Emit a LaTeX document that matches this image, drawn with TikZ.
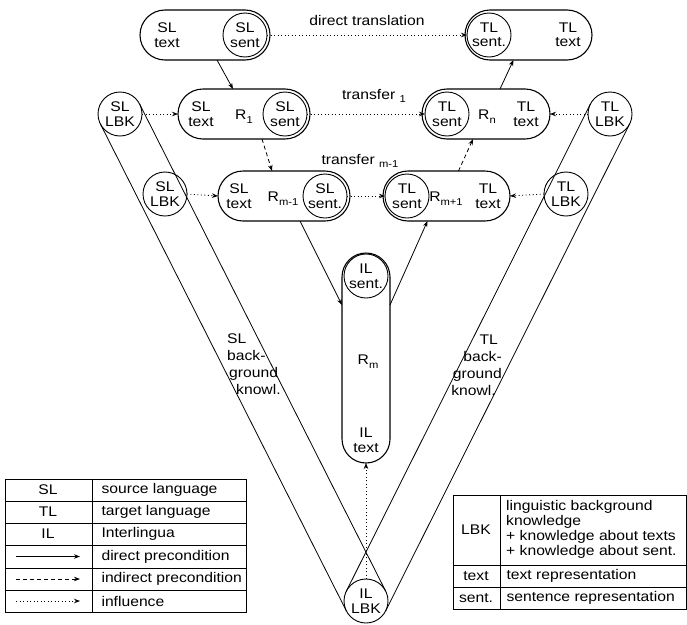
\documentclass[tikz,border=0pt]{standalone}
\usepackage{fontspec}
\setmainfont{Liberation Sans}[FakeStretch=1.12]
\usetikzlibrary{arrows.meta,calc}

% lowered index used for R_1, R_n, transfer_1 ...
\newcommand{\lowidx}[1]{\raisebox{-0.5ex}{\fontsize{10}{10}\selectfont #1}}

\begin{document}
\begin{tikzpicture}[x=1pt,y=-1pt,
  font=\fontsize{14}{14.5}\selectfont,
  capsule/.style={draw,line width=1.1pt,rounded corners=25pt,minimum height=50pt,
                  inner sep=0pt,outer sep=0pt},
  rep/.style={draw,circle,line width=0.9pt,minimum size=44pt,inner sep=0pt,
              outer sep=0pt,align=center},
  lbl/.style={align=center,inner sep=0pt},
  tip/.style={-{Stealth[length=6pt,width=4.5pt]}},
  direct/.style={line width=0.8pt,tip},
  indirect/.style={line width=0.8pt,dash pattern=on 4pt off 3pt,tip},
  influence/.style={line width=0.8pt,dash pattern=on 0.9pt off 2.6pt,tip},
  band/.style={line width=0.8pt},
  tab/.style={line width=1pt},
]
\useasboundingbox (0,0) rectangle (687,624);

% ---- row 1: texts -------------------------------------------------
\node[capsule,minimum width=130pt] (s1) at (205,35) {};
\node[rep] (s1sent) at (245,35) {SL\\sent};
\node[lbl] (s1text) at (167,35) {SL\\text};
\node[capsule,minimum width=127pt] (t1) at (528.5,35) {};
\node[rep] (t1sent) at (489,35) {TL\\sent.};
\node[lbl] (t1text) at (568,35) {TL\\text};

% ---- row 2: representation R_1 / R_n ------------------------------
\node[capsule,minimum width=132pt] (s2) at (244,114) {};
\node[rep] (s2sent) at (285,114) {SL\\sent};
\node[lbl] (s2text) at (201,114) {SL\\text};
\node[lbl] (s2r) at (244,117) {R\lowidx{1}};
\node[capsule,minimum width=128pt] (t2) at (486,114) {};
\node[rep] (t2sent) at (447,114) {TL\\sent};
\node[lbl] (t2r) at (487,117) {R\lowidx{n}};
\node[lbl] (t2text) at (526,114) {TL\\text};

% ---- row 3: representation R_{m-1} / R_{m+1} ----------------------
\node[capsule,minimum width=132pt] (s3) at (284,196) {};
\node[rep] (s3sent) at (325,196) {SL\\sent.};
\node[lbl] (s3text) at (239,196) {SL\\text};
\node[lbl] (s3r) at (283,199) {R\lowidx{m-1}};
\node[capsule,minimum width=127pt] (t3) at (446.5,196) {};
\node[rep] (t3sent) at (407,196) {TL\\sent};
\node[lbl] (t3r) at (446,199) {R\lowidx{m+1}};
\node[lbl] (t3text) at (488,196) {TL\\text};

% ---- interlingua R_m ----------------------------------------------
\node[capsule,minimum width=48pt,minimum height=210pt,rounded corners=24pt] (il) at (366,358) {};
\node[rep] (ilsent) at (366,276) {IL\\sent.};
\node[lbl] (ilr) at (368,362) {R\lowidx{m}};
\node[lbl] (iltext) at (366,440) {IL\\text};

% ---- linguistic background knowledge ------------------------------
\node[rep] (sl1) at (120,114) {SL\\LBK};
\node[rep] (sl2) at (165,194) {SL\\LBK};
\node[rep] (tl1) at (610,114) {TL\\LBK};
\node[rep] (tl2) at (566,194) {TL\\LBK};
\node[rep] (illbk) at (366,601) {IL\\LBK};

% bands joining SL/TL knowledge with IL knowledge
\draw[band] ($(sl1)!22pt!90:(illbk)$) -- ($(illbk)!22pt!-90:(sl1)$);
\draw[band] ($(sl1)!22pt!-90:(illbk)$) -- ($(illbk)!22pt!90:(sl1)$);
\draw[band] ($(tl1)!22pt!90:(illbk)$) -- ($(illbk)!22pt!-90:(tl1)$);
\draw[band] ($(tl1)!22pt!-90:(illbk)$) -- ($(illbk)!22pt!90:(tl1)$);
\node[align=left,inner sep=0pt,anchor=west,font=\fontsize{14}{17}\selectfont] (slbg) at (227,364)
  {SL\\back-\\\hspace*{2pt}ground\\\hspace*{9pt}knowl.};
\node[align=right,inner sep=0pt,anchor=east,font=\fontsize{14}{17}\selectfont] (tlbg) at (502,365)
  {TL\hspace*{4pt}\\back-\\ground\hspace*{1pt}\\knowl.\hspace*{6pt}};

% ---- preconditions ------------------------------------------------
\draw[direct] ($(s1.south)+(12,0)$) -- ($(s2.north)+(-11,0)$);
\draw[direct] ($(t2.north)+(14,0)$) -- ($(t1.south)+(-15,0)$);
\draw[indirect] ($(s2.south)+(18,0)$) -- ($(s3.north)+(-12,0)$);
\draw[indirect] ($(t3.north)+(12,0)$) -- ($(t2.south)+(-13,0)$);
\draw[direct] ($(s3.south)+(16,0)$) -- ($(il.west)+(0,-53)$);
\draw[direct] ($(il.east)+(0,-53)$) -- ($(t3.south)+(-19,0)$);

% ---- influences ---------------------------------------------------
\draw[influence] (s1sent.east) -- (t1sent.west);
\node[lbl] (dirtr) at (367,20) {direct translation};
\draw[influence] (sl1.east) -- (s2.west);
\draw[influence] (s2sent.east) -- (t2sent.west);
\node[lbl] (tr1) at (374,96) {transfer~\lowidx{1}};
\draw[influence] (tl1.west) -- (t2.east);
\draw[influence] (sl2.east) -- (s3.west);
\draw[influence] (s3sent.east) -- (t3sent.west);
\node[lbl] (trm) at (360,161) {transfer~\lowidx{m-1}};
\draw[influence] (tl2.west) -- (t3.east);
\draw[influence] (illbk.north) -- (il.south);

% ---- legend, left -------------------------------------------------
\draw[tab] (5,479) rectangle (246,612);
\foreach \yy in {501,523,545,568,590} \draw[tab] (5,\yy) -- (246,\yy);
\draw[tab] (92,479) -- (92,612);
\node (kSL) at (48,490) {SL};
\node (kTL) at (48,512) {TL};
\node (kIL) at (48,534) {IL};
\node[anchor=west] (vSL) at (98,490) {source language};
\node[anchor=west] (vTL) at (98,512) {target language};
\node[anchor=west] (vIL) at (98,534) {Interlingua};
\node[anchor=west] (vdir) at (98,556.5) {direct precondition};
\node[anchor=west] (vind) at (98,579) {indirect precondition};
\node[anchor=west] (vinf) at (98,601) {influence};
\coordinate (a1) at (16,556.5); \coordinate (a2) at (80,556.5);
\coordinate (b1) at (16,579);   \coordinate (b2) at (80,579);
\coordinate (c1) at (16,601);   \coordinate (c2) at (80,601);
\draw[direct] (a1) -- (a2);
\draw[indirect] (b1) -- (b2);
\draw[influence] (c1) -- (c2);

% ---- legend, right ------------------------------------------------
\draw[tab] (453,495) rectangle (686,609);
\draw[tab] (453,565) -- (686,565);
\draw[tab] (453,587) -- (686,587);
\draw[tab] (500,495) -- (500,609);
\node (kLBK) at (476,530) {LBK};
\node[align=left,anchor=north west,inner sep=0pt,font=\fontsize{14}{15}\selectfont] (vLBK) at (506,500)
  {linguistic background\\knowledge\\+ knowledge about texts\\+ knowledge about sent.};
\node (ktext) at (476,576) {text};
\node[anchor=west] (vtext) at (503,576) {text representation};
\node (ksent) at (476,598) {sent.};
\node[anchor=west] (vsent) at (503,598) {sentence representation};
\end{tikzpicture}
\end{document}
